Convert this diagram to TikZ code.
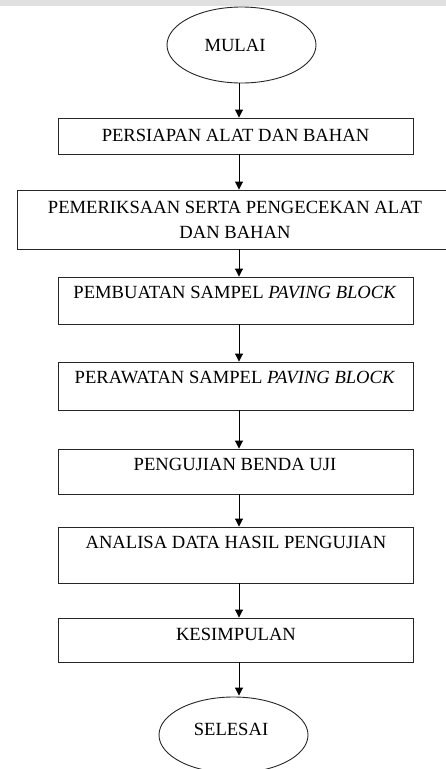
\documentclass[tikz,border=0pt]{standalone}
\usepackage{fontspec}
\setmainfont{Liberation Serif}
\usetikzlibrary{arrows.meta,shapes.geometric}
\begin{document}
\begin{tikzpicture}[x=1pt,y=-1pt,
  boxst/.style={draw=black!85,line width=0.9pt,rectangle,inner sep=0pt},
  ovalst/.style={draw=black!85,line width=0.9pt,ellipse,inner sep=0pt,minimum width=149pt,minimum height=76pt},
  txt/.style={font=\fontsize{18.6}{25}\selectfont,inner sep=0pt,anchor=base,align=center},
  arr/.style={draw=black,line width=0.9pt,-{Triangle[width=8pt,length=8pt]}}]
\useasboundingbox (0,0) rectangle (446,769);
\fill[black!12] (0,0) rectangle (446,6);
\coordinate (ax) at (239,0);
% start
\node[ovalst] (m) at (241.5,45) {};
\node[txt] (tm) at (235,51) {MULAI};
% boxes
\node[boxst,minimum width=355pt,minimum height=36pt] (b1) at (235.5,136) {};
\node[txt] (t1) at (235.5,141) {PERSIAPAN ALAT DAN BAHAN};
\node[boxst,minimum width=444pt,minimum height=59pt] (b2) at (239,219.5) {};
\node[txt,anchor=north] (t2) at (235,201) {PEMERIKSAAN SERTA PENGECEKAN ALAT\\DAN BAHAN};
\node[boxst,minimum width=355pt,minimum height=47pt] (b3) at (235.5,300.5) {};
\node[txt] (t3) at (235,298) {PEMBUATAN SAMPEL \textit{PAVING BLOCK}};
\node[boxst,minimum width=355pt,minimum height=48pt] (b4) at (235.5,386) {};
\node[txt] (t4) at (235,383) {PERAWATAN SAMPEL \textit{PAVING BLOCK}};
\node[boxst,minimum width=355pt,minimum height=45pt] (b5) at (235.5,471.5) {};
\node[txt] (t5) at (235,470) {PENGUJIAN BENDA UJI};
\node[boxst,minimum width=355pt,minimum height=56pt] (b6) at (235.5,555) {};
\node[txt] (t6) at (236,548) {ANALISA DATA HASIL PENGUJIAN};
\node[boxst,minimum width=355pt,minimum height=44pt] (b7) at (235.5,640) {};
\node[txt] (t7) at (236,640) {KESIMPULAN};
% end
\node[ovalst] (s) at (233.5,735) {};
\node[txt] (ts) at (231,735) {SELESAI};
% arrows
\draw[arr] (m.south -| ax) -- (b1.north -| ax);
\draw[arr] (b1.south -| ax) -- (b2.north -| ax);
\draw[arr] (b2.south -| ax) -- (b3.north -| ax);
\draw[arr] (b3.south -| ax) -- (b4.north -| ax);
\draw[arr] (b4.south -| ax) -- (b5.north -| ax);
\draw[arr] (b5.south -| ax) -- (b6.north -| ax);
\draw[arr] (b6.south -| ax) -- (b7.north -| ax);
\draw[arr] (b7.south -| ax) -- ([yshift=1pt]s.north -| ax);
\end{tikzpicture}
\end{document}
